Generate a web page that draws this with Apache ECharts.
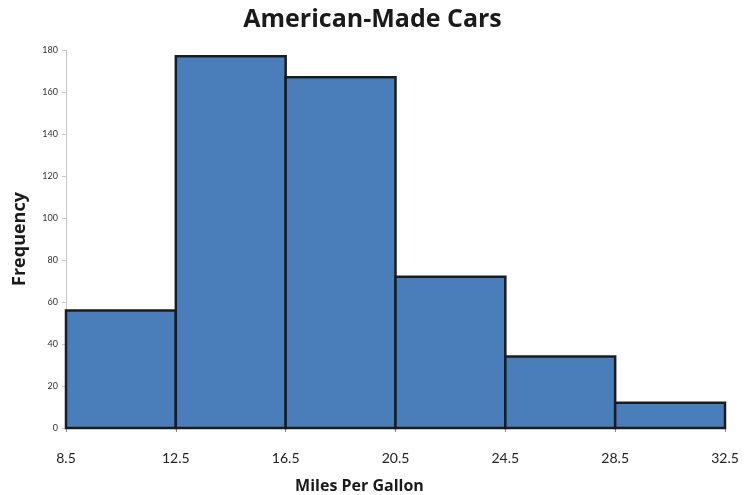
<!DOCTYPE html>
<html>
<head>
<meta charset="utf-8">
<script src="https://cdn.jsdelivr.net/npm/echarts@6/dist/echarts.min.js"></script>
<style>
  html, body { margin: 0; padding: 0; background: #fff; }
  #chart { width: 745px; height: 495px; }
</style>
</head>
<body>
<div id="chart"></div>
<script>
// Histogram of fuel economy for American-made cars
const binEdges = [8.5, 12.5, 16.5, 20.5, 24.5, 28.5, 32.5];
const frequencies = [56, 177, 167, 72, 34, 12];
const yTicks = [0, 20, 40, 60, 80, 100, 120, 140, 160, 180];

const bins = frequencies.map((f, i) => [binEdges[i], binEdges[i + 1], f]);

const chart = echarts.init(document.getElementById('chart'));
const font = 'Lato, "Open Sans", sans-serif';
const headFont = '"Open Sans", Lato, sans-serif';

chart.setOption({
  animation: false,
  title: {
    text: 'American-Made Cars',
    left: 'center',
    top: 2,
    padding: [5, 0, 5, 7],
    textStyle: { fontFamily: headFont, fontWeight: 'bold', fontSize: 25, color: '#1a1a1a' }
  },
  grid: { left: 66, right: 20, top: 50, bottom: 67, outerBoundsMode: 'none', containLabel: false },
  xAxis: {
    type: 'value',
    min: binEdges[0],
    max: binEdges[binEdges.length - 1],
    name: 'Miles Per Gallon',
    nameLocation: 'middle',
    nameGap: 50,
    nameTextStyle: {
      fontFamily: headFont, fontWeight: 'bold', fontSize: 16, color: '#1a1a1a',
      padding: [0, 72, 0, 0]
    },
    splitLine: { show: false },
    axisLine: { lineStyle: { color: '#8c8c8c', width: 1 } },
    axisTick: { show: true, customValues: binEdges, length: 4, lineStyle: { color: '#8c8c8c' } },
    axisLabel: {
      customValues: binEdges,
      formatter: v => v.toFixed(1),
      margin: 23,
      fontFamily: font, fontSize: 14, color: '#222'
    }
  },
  yAxis: {
    type: 'value',
    min: 0,
    max: 180,
    interval: 20,
    name: 'Frequency',
    nameLocation: 'middle',
    nameGap: 37,
    nameRotate: 90,
    nameTextStyle: { fontFamily: headFont, fontWeight: 'bold', fontSize: 18, color: '#1a1a1a' },
    splitLine: { show: false },
    axisLine: { show: true, lineStyle: { color: '#c8c8c8', width: 1 } },
    axisTick: { show: true, length: 4, lineStyle: { color: '#c8c8c8' } },
    axisLabel: {
      customValues: yTicks,
      margin: 8,
      fontFamily: font, fontSize: 9, color: '#333'
    }
  },
  series: [{
    type: 'custom',
    data: bins,
    encode: { x: [0, 1], y: 2 },
    renderItem: (params, api) => {
      const p0 = api.coord([api.value(0), 0]);
      const p1 = api.coord([api.value(1), api.value(2)]);
      return {
        type: 'rect',
        shape: { x: p0[0], y: p1[1], width: p1[0] - p0[0], height: p0[1] - p1[1] },
        style: { fill: '#4a7ebb', stroke: '#1c1c1c', lineWidth: 2.5 }
      };
    }
  }]
});
</script>
</body>
</html>
